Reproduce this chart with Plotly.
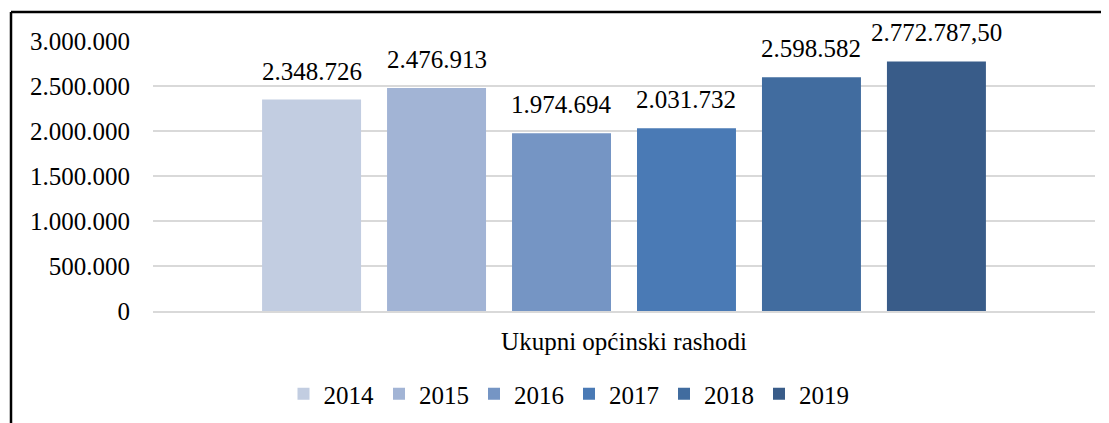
import plotly.graph_objects as go

# data
category = ["Ukupni općinski rashodi"]
years = ["2014", "2015", "2016", "2017", "2018", "2019"]
values = [2348726, 2476913, 1974694, 2031732, 2598582, 2772787.50]
labels = ["2.348.726", "2.476.913", "1.974.694", "2.031.732", "2.598.582", "2.772.787,50"]
colors = ["#C2CDE1", "#A2B4D5", "#7595C4", "#4A7AB5", "#416C9F", "#395C89"]

FONT = "Liberation Serif"
FS = 25
OFF = 8  # page body margin
W, H = 1109 - OFF, 423 - OFF
ML, MR, MT, MB = 153 - OFF, 14, 41 - OFF, 112
PW = W - ML - MR
PH = H - MT - MB

fig = go.Figure()
for yr, v, c in zip(years, values, colors):
    fig.add_trace(go.Bar(
        x=category, y=[v], name=yr,
        marker_color=c, marker_line=dict(width=0),
    ))

# data labels, a bit higher than plotly's "outside" text
slot = PW * (1 - 0.204) / len(years)
for i, (v, t) in enumerate(zip(values, labels)):
    fig.add_annotation(
        x=category[0], y=v, xref="x", yref="y",
        text=t, showarrow=False, yanchor="bottom",
        xshift=(i - (len(years) - 1) / 2) * slot, yshift=13,
        font=dict(family=FONT, size=FS, color="#000000"),
    )


# frame lines (top and left), positions in page pixels
def px_x(p):
    return (p - OFF - ML) / PW


def px_y(p):
    return (H - MB - (p - OFF)) / PH


fig.add_shape(type="line", xref="paper", yref="paper",
              x0=px_x(11), x1=px_x(1109 + 5), y0=px_y(12), y1=px_y(12),
              line=dict(color="#000000", width=2.5))
fig.add_shape(type="line", xref="paper", yref="paper",
              x0=px_x(11), x1=px_x(11), y0=px_y(12), y1=px_y(423 + 5),
              line=dict(color="#000000", width=2.5))

fig.update_layout(
    width=W, height=H,
    margin=dict(l=ML, r=MR, t=MT, b=MB, autoexpand=False),
    paper_bgcolor="white", plot_bgcolor="white",
    barmode="group", bargap=0.204, bargroupgap=0.208,
    separators=",.",
    font=dict(family=FONT, size=FS, color="#000000"),
    showlegend=True,
    legend=dict(orientation="h", xanchor="center", yanchor="middle",
                xref="container", yref="container",
                x=(569 - OFF) / W, y=(H - (394 - OFF)) / H,
                font=dict(family=FONT, size=FS, color="#000000"),
                itemwidth=30, tracegroupgap=0),
    xaxis=dict(showgrid=False, showline=True, linecolor="#D9D9D9", linewidth=1.5,
               ticks="", tickfont=dict(family=FONT, size=FS, color="#000000"),
               ticklabelstandoff=7, automargin=False),
    yaxis=dict(range=[0, 3000000], dtick=500000, tickformat=",d",
               showgrid=True, gridcolor="#D9D9D9", gridwidth=1.5,
               zeroline=False, showline=False, ticks="",
               tickfont=dict(family=FONT, size=FS, color="#000000"),
               ticklabelstandoff=22, automargin=False),
)

fig.write_html("out.html")
